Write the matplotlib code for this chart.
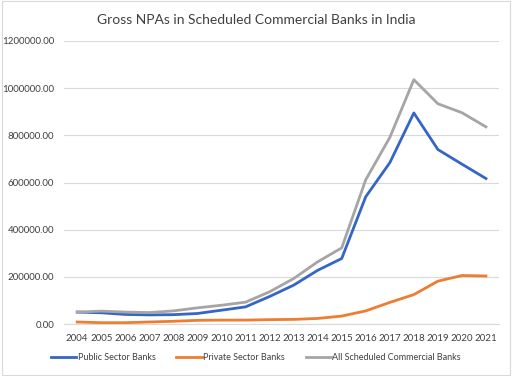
import matplotlib
matplotlib.use('Agg')
import matplotlib.pyplot as plt
import numpy as np

years = [str(y) for y in range(2004, 2022)]
public = [51000, 48000, 41000, 39000, 40000, 45000, 59000, 73000, 117000, 165000,
          228000, 278000, 540000, 684000, 895000, 740000, 678000, 617000]
private = [9000, 6000, 6000, 9000, 12000, 16000, 17000, 17000, 19000, 20000,
           24000, 34000, 56000, 92000, 125000, 182000, 206000, 204000]
allbanks = [51000, 55000, 51000, 49000, 56000, 69000, 80000, 93000, 137000, 193000,
            264000, 323000, 612000, 791000, 1036000, 934000, 896000, 836000]

plt.rcParams['font.family'] = ['Lato', 'DejaVu Sans']

fig = plt.figure(figsize=(5.12, 3.76), dpi=100)
ax = fig.add_axes([0.125, 0.138, 0.85, 0.753])

x = np.arange(len(years))
ax.plot(x, public, color='#3366C6', lw=2, label='Public Sector Banks')
ax.plot(x, private, color='#ED7D31', lw=2, label='Private Sector Banks')
ax.plot(x, allbanks, color='#A5A5A5', lw=2, label='All Scheduled Commercial Banks')

ax.set_xlim(-0.55, len(years) - 0.45)
ax.set_ylim(0, 1200000)
ax.set_yticks(np.arange(0, 1200001, 200000))
ax.set_yticklabels(['%.2f' % v for v in np.arange(0, 1200001, 200000)])
ax.set_xticks(x)
ax.set_xticklabels(years)
ax.tick_params(axis='both', length=0, labelsize=7, colors='#404040', pad=7)
ax.grid(axis='y', color='#D9D9D9', lw=0.8)
ax.set_axisbelow(True)
for s in ['top', 'right', 'left']:
    ax.spines[s].set_visible(False)
ax.spines['bottom'].set_color('#D9D9D9')

fig.suptitle('Gross NPAs in Scheduled Commercial Banks in India', y=0.963,
             fontsize=10, color='#404040')
fig.legend(loc='center', bbox_to_anchor=(0.5, 0.048), ncol=3, frameon=False,
           fontsize=6.5, handlelength=2.8, handletextpad=0.15, columnspacing=2.3,
           labelcolor='#404040')

border = plt.Rectangle((0.003, 0.003), 0.994, 0.994, transform=fig.transFigure,
                       fill=False, edgecolor='#D9D9D9', lw=0.8)
fig.patches.append(border)

fig.savefig('out.png', dpi=100)
